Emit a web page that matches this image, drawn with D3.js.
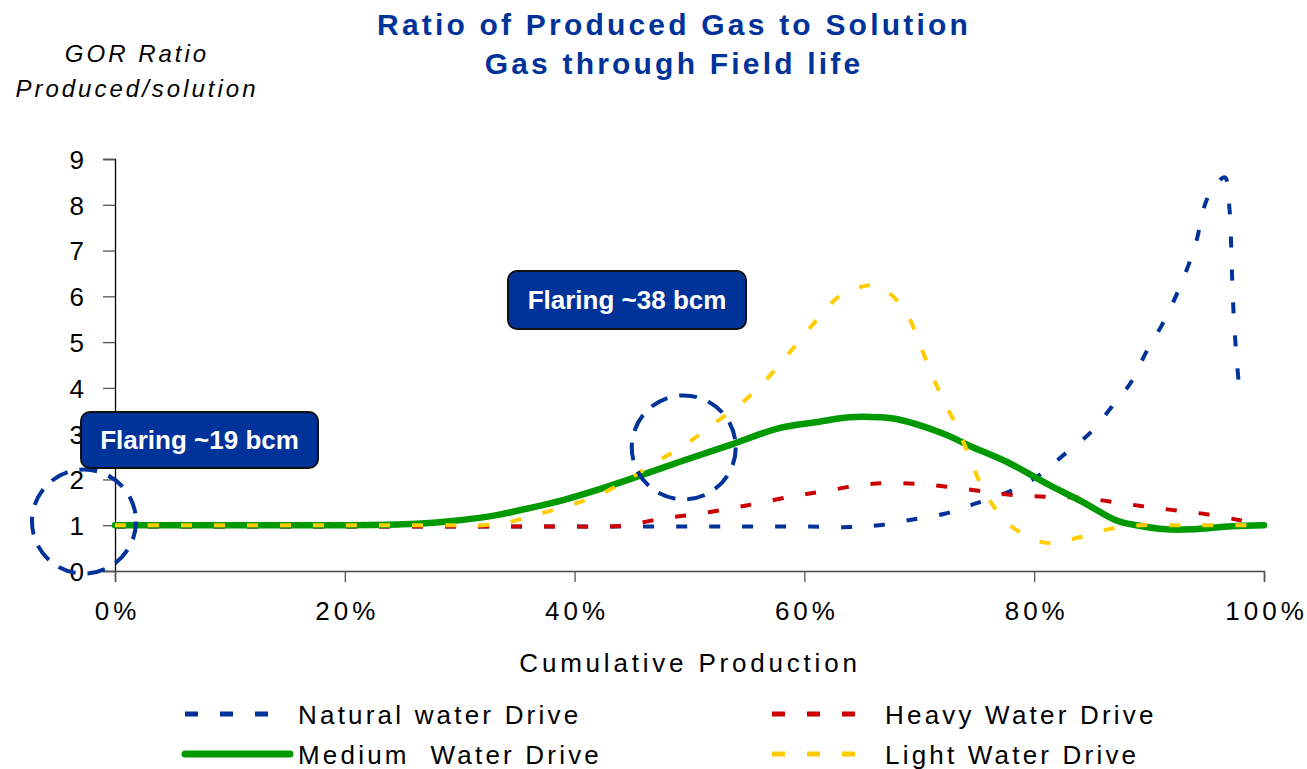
<!DOCTYPE html>
<html>
<head>
<meta charset="utf-8">
<script src="https://cdn.jsdelivr.net/npm/d3@7"></script>
<style>
  html, body { margin: 0; padding: 0; background: #fff; }
  svg { display: block; font-family: Arial, "Liberation Sans", sans-serif; }
</style>
</head>
<body>
<svg id="chart" width="1307" height="769"></svg>
<script>
// ---- Data ----
const titleLines = ["Ratio of Produced Gas to Solution", "Gas through Field life"];
const yTitleLines = ["GOR Ratio", "Produced/solution"];
const xTitle = "Cumulative Production";
const yTicks = [0, 1, 2, 3, 4, 5, 6, 7, 8, 9];
const xTicks = [0, 20, 40, 60, 80, 100];
const xTickLabels = ["0%", "20%", "40%", "60%", "80%", "100%"];

const naturalX = [0, 20, 40, 60, 64, 66.5, 69.3, 72.2, 74.5, 77.5, 80.2, 82.4, 84.8, 86.8, 88.5, 89.7, 91.3, 92.6, 94, 95, 96, 96.6, 97, 97.2, 97.4, 97.8];
const naturalY = [0.97, 0.97, 0.97, 0.97, 0.96, 1.0, 1.12, 1.25, 1.44, 1.7, 2.05, 2.5, 3.0, 3.6, 4.15, 4.76, 5.46, 6.16, 7.1, 8.1, 8.5, 8.6, 7.9, 6.6, 5.4, 4.1];

const heavyX = [0, 20, 40, 43, 45, 47.7, 50.6, 53.6, 56, 58.9, 61.7, 64.7, 67, 70, 72.8, 75.9, 78.2, 81, 84.1, 86.8, 89.3, 92.1, 95, 97.9, 100];
const heavyY = [0.97, 0.97, 0.97, 0.97, 1.02, 1.15, 1.24, 1.37, 1.48, 1.63, 1.74, 1.87, 1.92, 1.9, 1.83, 1.73, 1.66, 1.62, 1.6, 1.51, 1.42, 1.33, 1.24, 1.11, 1.02];

const mediumX = [0, 10, 20, 25, 28, 31.7, 33.2, 36, 39, 41.7, 44.5, 49.1, 53.5, 57.8, 61, 63.9, 66.5, 68, 72, 74.6, 77.8, 81.3, 84.2, 87.1, 88.9, 91.5, 93.7, 97.2, 100];
const mediumY = [1, 1, 1, 1.02, 1.06, 1.16, 1.22, 1.37, 1.55, 1.75, 1.98, 2.38, 2.75, 3.12, 3.25, 3.36, 3.36, 3.32, 3.01, 2.71, 2.36, 1.88, 1.51, 1.11, 1.0, 0.91, 0.91, 0.98, 1.0];

const lightX = [0, 10, 20, 30, 32, 34, 36.5, 39.4, 42.1, 44.6, 47.1, 49.6, 51.6, 54.1, 55.8, 57.6, 59.4, 61.2, 63.2, 65.9, 67.2, 68.9, 70, 71, 72, 73.1, 74.2, 75.1, 76.4, 78.2, 80.7, 82, 83.7, 86.6, 89.3, 92, 95, 100];
const lightY = [1, 1, 1, 1, 1.0, 1.05, 1.22, 1.42, 1.66, 1.99, 2.38, 2.75, 3.12, 3.58, 3.95, 4.44, 4.98, 5.52, 6.03, 6.24, 6.11, 5.63, 4.98, 4.35, 3.78, 3.23, 2.6, 2.03, 1.44, 0.94, 0.63, 0.62, 0.72, 0.92, 1.0, 1.0, 1.0, 1.0];

const seriesNames = ["Natural water Drive", "Heavy Water Drive", "Medium  Water Drive", "Light Water Drive"];

// Annotations (data coordinates: x in %, y in ratio)
const annotationTexts = ["Flaring ~19 bcm", "Flaring ~38 bcm"];
const circleCentersX = [-2.7, 49.5];
const circleCentersY = [1.08, 2.70];

// ---- Layout / styles ----
const svg = d3.select("#chart");
const x = d3.scaleLinear().domain([0, 100]).range([115, 1264]);
const y = d3.scaleLinear().domain([0, 9]).range([571, 159]);

const series = [
  { name: seriesNames[0], xs: naturalX, ys: naturalY, color: "#003399", width: 4, dash: "11 22" },
  { name: seriesNames[1], xs: heavyX, ys: heavyY, color: "#CC0000", width: 4, dash: "11 22" },
  { name: seriesNames[2], xs: mediumX, ys: mediumY, color: "#009900", width: 6.5, dash: null },
  { name: seriesNames[3], xs: lightX, ys: lightY, color: "#FFCC00", width: 4, dash: "11 22" }
];

// Axes
const yAxis = d3.axisLeft(y).tickValues(yTicks).tickSize(12).tickPadding(19).tickFormat(d3.format("d"));
const gy = svg.append("g").attr("transform", "translate(115,0)").call(yAxis);
gy.select(".domain").attr("stroke", "#000").attr("stroke-width", 1.3);
gy.selectAll(".tick line").attr("stroke", "#555").attr("stroke-width", 1.3);
gy.selectAll(".tick text").attr("font-size", 26).attr("fill", "#000")
  .attr("font-family", "Arial, 'Liberation Sans', sans-serif").attr("dy", "0.36em");

const xAxis = d3.axisBottom(x).tickValues(xTicks).tickSize(11).tickPadding(0).tickFormat((d, i) => xTickLabels[i]);
const gx = svg.append("g").attr("transform", "translate(0,571)").call(xAxis);
gx.select(".domain").attr("stroke", "#444").attr("stroke-width", 1.5);
gx.selectAll(".tick line").attr("stroke", "#555").attr("stroke-width", 1.3);
gx.selectAll(".tick text").attr("font-size", 26).attr("fill", "#000")
  .attr("font-family", "Arial, 'Liberation Sans', sans-serif")
  .attr("letter-spacing", 4).attr("y", 49).attr("dy", 0).attr("dx", 2);

// Lines
const line = d3.line().x(d => x(d[0])).y(d => y(d[1])).curve(d3.curveCatmullRom.alpha(0.5));
const lineG = svg.append("g");
series.forEach(s => {
  const pts = s.xs.map((v, i) => [v, s.ys[i]]);
  const p = lineG.append("path").datum(pts)
    .attr("d", line)
    .attr("fill", "none")
    .attr("stroke", s.color)
    .attr("stroke-width", s.width)
    .attr("stroke-linejoin", "round");
  if (s.dash) p.attr("stroke-dasharray", s.dash);
  else p.attr("stroke-linecap", "round");
});

// Dashed circles
circleCentersX.forEach((cx, i) => {
  svg.append("circle")
    .attr("cx", x(cx)).attr("cy", y(circleCentersY[i])).attr("r", 52)
    .attr("fill", "none").attr("stroke", "#003399").attr("stroke-width", 4)
    .attr("stroke-dasharray", "18 12");
});

// Annotation boxes
const boxes = [
  { x0: 81, y0: 412, w: 237, h: 56 },
  { x0: 508, y0: 271, w: 238, h: 58 }
];
boxes.forEach((b, i) => {
  svg.append("rect").attr("x", b.x0).attr("y", b.y0).attr("width", b.w).attr("height", b.h)
    .attr("rx", 9).attr("fill", "#003399").attr("stroke", "#111").attr("stroke-width", 2);
  svg.append("text").attr("x", b.x0 + b.w / 2).attr("y", b.y0 + b.h / 2 + 9)
    .attr("text-anchor", "middle").attr("font-size", 26).attr("font-weight", "bold")
    .attr("fill", "#fff").text(annotationTexts[i]);
});

// Title
titleLines.forEach((t, i) => {
  svg.append("text").attr("x", 674).attr("y", 35 + i * 39)
    .attr("text-anchor", "middle").attr("font-size", 30).attr("font-weight", "bold")
    .attr("letter-spacing", 3.2).attr("fill", "#003399").text(t);
});

// Y title
yTitleLines.forEach((t, i) => {
  svg.append("text").attr("x", 137).attr("y", 62 + i * 35)
    .attr("text-anchor", "middle").attr("font-size", 24).attr("font-style", "italic")
    .attr("letter-spacing", 3).attr("fill", "#000").text(t);
});

// X title
svg.append("text").attr("x", 690).attr("y", 672)
  .attr("text-anchor", "middle").attr("font-size", 26)
  .attr("letter-spacing", 3.8).attr("fill", "#000").text(xTitle);

// Legend
const legendPos = [
  { lx: 185, ly: 714 }, { lx: 772, ly: 714 },
  { lx: 185, ly: 754 }, { lx: 772, ly: 754 }
];
series.forEach((s, i) => {
  const lp = legendPos[i];
  const l = svg.append("line").attr("x1", lp.lx).attr("x2", lp.lx + 105)
    .attr("y1", lp.ly).attr("y2", lp.ly)
    .attr("stroke", s.color).attr("stroke-width", s.dash ? 5 : 7);
  if (s.dash) l.attr("stroke-dasharray", "13 22");
  else l.attr("stroke-linecap", "round");
  svg.append("text").attr("x", lp.lx + 113).attr("y", lp.ly + 10)
    .attr("font-size", 26).attr("letter-spacing", 3.2).attr("fill", "#000")
    .style("white-space", "pre").text(s.name);
});
</script>
</body>
</html>
